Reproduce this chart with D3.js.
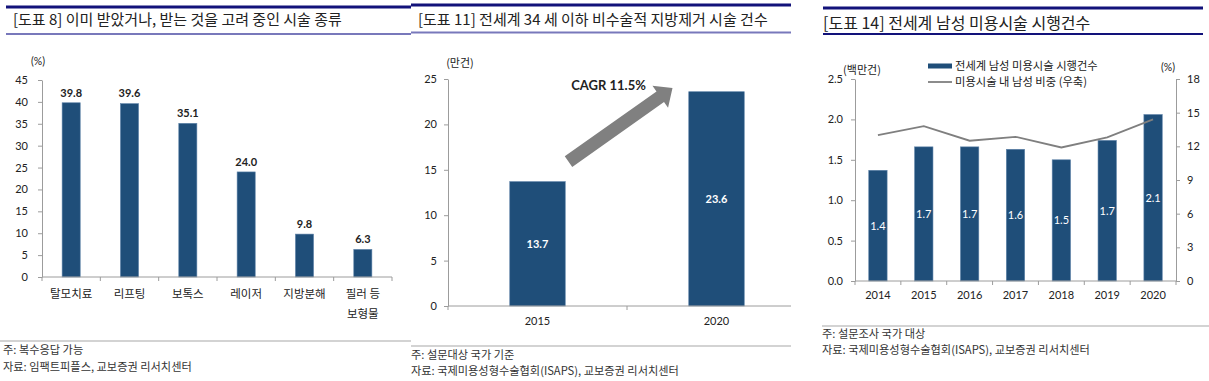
<!DOCTYPE html>
<html><head><meta charset="utf-8">
<script src="https://cdn.jsdelivr.net/npm/d3@7/dist/d3.min.js"></script>
<style>
html,body{margin:0;padding:0;background:#fff;}
svg{display:block;}
.kr{font-family:"Noto Sans CJK KR","Noto Sans",sans-serif;}
.num{font-family:Lato,"Noto Sans",sans-serif;}
</style></head>
<body>
<svg id="c" width="1209" height="381"></svg>
<script>
// ---------- data ----------
const titles = ["[도표 8] 이미 받았거나, 받는 것을 고려 중인 시술 종류",
                "[도표 11] 전세계 34 세 이하 비수술적 지방제거 시술 건수",
                "[도표 14] 전세계 남성 미용시술 시행건수"];
const cat1 = ["탈모치료", "리프팅", "보톡스", "레이저", "지방분해", "필러 등|보형물"];
const val1 = [39.8, 39.6, 35.1, 24.0, 9.8, 6.3];
const ticks1 = [0, 5, 10, 15, 20, 25, 30, 35, 40, 45];
const unit1 = "(%)";
const notes1 = ["주: 복수응답 가능", "자료: 임팩트피플스, 교보증권 리서치센터"];

const cat2 = ["2015", "2020"];
const val2 = [13.7, 23.6];
const ticks2 = [0, 5, 10, 15, 20, 25];
const unit2 = "(만건)";
const cagrLabel = "CAGR 11.5%";
const notes2 = ["주: 설문대상 국가 기준", "자료: 국제미용성형수술협회(ISAPS), 교보증권 리서치센터"];

const cat3 = ["2014", "2015", "2016", "2017", "2018", "2019", "2020"];
const bar3 = [1.37, 1.66, 1.66, 1.63, 1.50, 1.74, 2.06];
const barLabel3 = ["1.4", "1.7", "1.7", "1.6", "1.5", "1.7", "2.1"];
const line3 = [13.0, 13.8, 12.5, 12.85, 11.9, 12.8, 14.4];
const ticks3L = [0, 0.5, 1.0, 1.5, 2.0, 2.5];
const ticks3R = [0, 3, 6, 9, 12, 15, 18];
const unit3L = "(백만건)", unit3R = "(%)";
const legend3 = ["전세계 남성 미용시술 시행건수", "미용시술 내 남성 비중 (우축)"];
const notes3 = ["주: 설문조사 국가 대상", "자료: 국제미용성형수술협회(ISAPS), 교보증권 리서치센터"];

// ---------- styles ----------
const BAR = "#1f4e79", AXIS = "#9c9c9c", TXT = "#222", NAVY = "#12127a", LAV = "#7878bb", FOOT = "#c4c4c4";
const svg = d3.select("#c");
svg.append("rect").attr("width",1209).attr("height",381).attr("fill","#fff");

function header(x0, x1, yTop, yBot, botColor, title, tx, ty, fs){
  svg.append("line").attr("x1",x0).attr("x2",x1).attr("y1",yTop).attr("y2",yTop).attr("stroke",NAVY).attr("stroke-width",3);
  svg.append("line").attr("x1",x0).attr("x2",x1).attr("y1",yBot).attr("y2",yBot).attr("stroke",botColor).attr("stroke-width",2);
  svg.append("text").attr("class","kr").attr("x",tx).attr("y",ty).attr("dy","0.35em")
     .attr("font-size",fs).attr("fill",TXT).text(title);
}
function footer(x0, x1, yl, notes, tx, ty1, ty2){
  svg.append("line").attr("x1",x0).attr("x2",x1).attr("y1",yl).attr("y2",yl).attr("stroke",FOOT).attr("stroke-width",1.5);
  [ty1,ty2].forEach((y,i)=>svg.append("text").attr("class","kr").attr("x",tx).attr("y",y).attr("dy","0.35em")
     .attr("font-size",11.2).attr("fill","#333").text(notes[i]));
}
function styleAxis(g){
  g.select(".domain").attr("stroke",AXIS);
  g.selectAll(".tick line").attr("stroke",AXIS);
  g.selectAll(".tick text").attr("class","num").attr("font-size",11).attr("fill",TXT);
}
function xAxisLine(g, xs, y, xEnd){
  const bounds = xs.domain().map(d=>xs(d)).concat([xs.range()[1]]);
  g.append("line").attr("x1",xs.range()[0]).attr("x2",xEnd).attr("y1",y).attr("y2",y).attr("stroke",AXIS);
  g.selectAll("line.tk").data(bounds.filter(b=>b<=xEnd+0.5)).join("line").attr("class","tk")
    .attr("x1",d=>d).attr("x2",d=>d).attr("y1",y).attr("y2",y+4).attr("stroke",AXIS);
}

// ================= Panel 1 =================
header(6, 411, 7, 34, LAV, titles[0], 13, 20, 15);
{
  const x = d3.scaleBand().domain(cat1).range([42, 392]);
  const y = d3.scaleLinear().domain([0,45]).range([277, 80]);
  const bw = x.bandwidth()*0.31;
  const g = svg.append("g");
  g.selectAll("rect.b").data(cat1).join("rect").attr("class","b")
    .attr("x",d=>x(d)+(x.bandwidth()-bw)/2).attr("width",bw)
    .attr("y",(d,i)=>y(val1[i])).attr("height",(d,i)=>y(0)-y(val1[i]))
    .attr("fill",BAR).attr("stroke","#5d82a8").attr("stroke-width",0.6);
  g.selectAll("text.v").data(cat1).join("text").attr("class","num")
    .attr("x",d=>x(d)+x.bandwidth()/2).attr("y",(d,i)=>y(val1[i])-10).attr("dy","0.35em")
    .attr("text-anchor","middle").attr("font-size",11).attr("font-weight","bold").attr("fill",TXT)
    .text((d,i)=>val1[i].toFixed(1));
  const ya = g.append("g").attr("transform","translate(42,0)")
    .call(d3.axisLeft(y).tickValues(ticks1).tickSize(4).tickPadding(10).tickSizeOuter(0));
  styleAxis(ya);
  xAxisLine(g, x, y(0), 392);
  cat1.forEach(c=>{
    c.split("|").forEach((ln,j)=>g.append("text").attr("class","kr")
      .attr("x",x(c)+x.bandwidth()/2).attr("y",294+j*20).attr("dy","0.35em")
      .attr("text-anchor","middle").attr("font-size",11.5).attr("fill",TXT).text(ln));
  });
  g.append("text").attr("class","num").attr("x",38).attr("y",61).attr("dy","0.35em")
    .attr("text-anchor","middle").attr("font-size",10.5).attr("fill",TXT).text(unit1);
}
footer(0, 411, 341, notes1, 3, 350, 367);

// ================= Panel 2 =================
header(411, 791, 5, 32.5, LAV, titles[1], 418, 20, 15);
{
  const x = d3.scaleBand().domain(cat2).range([448, 806]);
  const y = d3.scaleLinear().domain([0,25]).range([306, 79]);
  const bw = x.bandwidth()*0.31;
  const cx = d=>x(d)+x.bandwidth()/2;
  const g = svg.append("g");
  g.selectAll("rect.b").data(cat2).join("rect")
    .attr("x",d=>cx(d)-bw/2).attr("width",bw)
    .attr("y",(d,i)=>y(val2[i])).attr("height",(d,i)=>y(0)-y(val2[i]))
    .attr("fill",BAR).attr("stroke","#5d82a8").attr("stroke-width",0.6);
  g.selectAll("text.v").data(cat2).join("text").attr("class","num")
    .attr("x",cx).attr("y",(d,i)=>y(val2[i]/2)).attr("dy","0.35em")
    .attr("text-anchor","middle").attr("font-size",11).attr("font-weight","bold").attr("fill","#fff")
    .text((d,i)=>val2[i].toFixed(1));
  const ya = g.append("g").attr("transform","translate(448,0)")
    .call(d3.axisLeft(y).tickValues(ticks2).tickSize(4).tickPadding(7).tickSizeOuter(0));
  styleAxis(ya);
  xAxisLine(g, x, y(0), 791);
  g.selectAll("text.xl").data(cat2).join("text").attr("class","num")
    .attr("x",cx).attr("y",321).attr("dy","0.35em").attr("text-anchor","middle")
    .attr("font-size",11).attr("fill",TXT).text(d=>d);
  g.append("text").attr("class","kr").attr("x",460).attr("y",63).attr("dy","0.35em")
    .attr("text-anchor","middle").attr("font-size",11).attr("fill",TXT).text(unit2);
  // CAGR arrow (annotation)
  const T = [cx(cat2[0])+31, y(15.9)], P = [cx(cat2[1])-44, y(24.0)];
  const dx = P[0]-T[0], dy = P[1]-T[1], L = Math.hypot(dx,dy);
  const u = [dx/L, dy/L], n = [-u[1], u[0]];
  const sw = 6.5, hw = 13.5, hl = 15;
  const B = [P[0]-u[0]*hl, P[1]-u[1]*hl];
  const pt = (p, k)=>[p[0]+n[0]*k, p[1]+n[1]*k];
  const poly = [pt(T,sw), pt(B,sw), pt(B,hw), P, pt(B,-hw), pt(B,-sw), pt(T,-sw)];
  g.append("path").attr("d","M"+poly.map(p=>p.join(",")).join("L")+"Z").attr("fill","#808080");
  g.append("text").attr("class","num").attr("x",P[0]-64).attr("y",P[1]-3).attr("dy","0.35em")
    .attr("text-anchor","middle").attr("font-size",13).attr("font-weight","bold").attr("fill",TXT).text(cagrLabel);
}
footer(411, 791, 346, notes2, 411, 355, 371);

// ================= Panel 3 =================
header(823, 1203, 8, 34, NAVY, titles[2], 823, 23, 16);
{
  const x = d3.scaleBand().domain(cat3).range([855, 1176]);
  const y = d3.scaleLinear().domain([0,2.5]).range([281, 79]);
  const yr = d3.scaleLinear().domain([0,18]).range([281, 79]);
  const bw = x.bandwidth()*0.4;
  const cx = d=>x(d)+x.bandwidth()/2;
  const g = svg.append("g");
  g.selectAll("rect.b").data(cat3).join("rect")
    .attr("x",d=>cx(d)-bw/2).attr("width",bw)
    .attr("y",(d,i)=>y(bar3[i])).attr("height",(d,i)=>y(0)-y(bar3[i]))
    .attr("fill",BAR).attr("stroke","#5d82a8").attr("stroke-width",0.6);
  g.selectAll("text.v").data(cat3).join("text").attr("class","num")
    .attr("x",cx).attr("y",(d,i)=>y(bar3[i]/2)).attr("dy","0.35em")
    .attr("text-anchor","middle").attr("font-size",11).attr("fill","#fff")
    .text((d,i)=>barLabel3[i]);
  g.append("path").datum(line3)
    .attr("d", d3.line().x((d,i)=>cx(cat3[i])).y(d=>yr(d)))
    .attr("fill","none").attr("stroke","#7f7f7f").attr("stroke-width",1.8);
  const yl = g.append("g").attr("transform","translate(855,0)")
    .call(d3.axisLeft(y).tickValues(ticks3L).tickFormat(d3.format(".1f")).tickSize(4).tickPadding(8).tickSizeOuter(0));
  styleAxis(yl);
  const yrA = g.append("g").attr("transform","translate(1176,0)")
    .call(d3.axisRight(yr).tickValues(ticks3R).tickSize(4).tickPadding(7).tickSizeOuter(0));
  styleAxis(yrA);
  xAxisLine(g, x, y(0), 1176);
  g.selectAll("text.xl").data(cat3).join("text").attr("class","num")
    .attr("x",cx).attr("y",295).attr("dy","0.35em").attr("text-anchor","middle")
    .attr("font-size",11).attr("fill",TXT).text(d=>d);
  g.append("text").attr("class","kr").attr("x",862).attr("y",70).attr("dy","0.35em")
    .attr("text-anchor","middle").attr("font-size",11).attr("fill",TXT).text(unit3L);
  g.append("text").attr("class","num").attr("x",1168).attr("y",67).attr("dy","0.35em")
    .attr("text-anchor","middle").attr("font-size",10.5).attr("fill",TXT).text(unit3R);
  // legend
  g.append("rect").attr("x",928).attr("y",63.5).attr("width",24).attr("height",5).attr("fill",BAR);
  g.append("line").attr("x1",928).attr("x2",952).attr("y1",82).attr("y2",82).attr("stroke","#7f7f7f").attr("stroke-width",1.8);
  legend3.forEach((t,i)=>g.append("text").attr("class","kr").attr("x",955).attr("y",66+i*16).attr("dy","0.35em")
    .attr("font-size",11.3).attr("fill",TXT).text(t));
}
footer(822, 1209, 326, notes3, 822, 334, 350);
</script>
</body></html>
